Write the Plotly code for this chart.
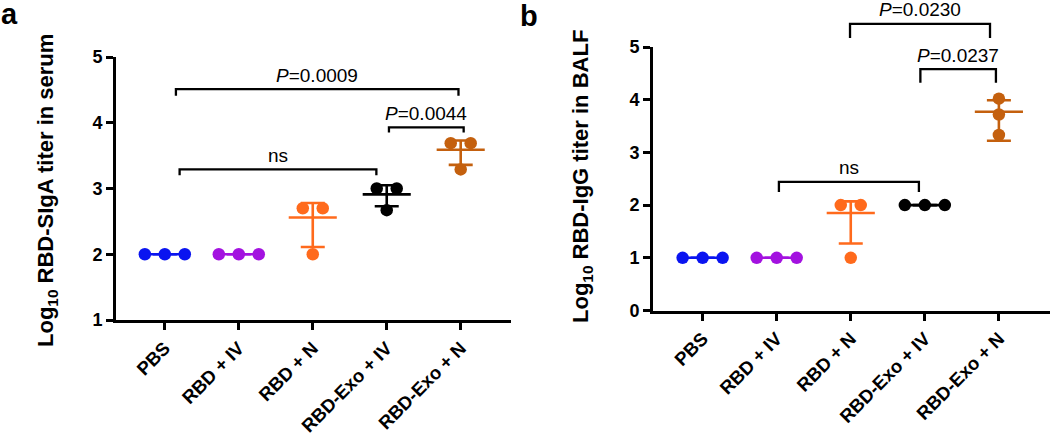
import plotly.graph_objects as go

W, H = 1050, 437

categories = ["PBS", "RBD + IV", "RBD + N", "RBD-Exo + IV", "RBD-Exo + N"]
colors = ["#0A14F0", "#A312E0", "#FF6A1C", "#000000", "#C4600E"]

# Panel a: Log10 RBD-SIgA titer in serum
a_points = [[2.0, 2.0, 2.0], [2.0, 2.0, 2.0], [2.70, 2.70, 2.0], [3.0, 3.0, 2.67], [3.69, 3.69, 3.29]]
a_mean = [2.0, 2.0, 2.56, 2.91, 3.59]
a_err_lo = [2.0, 2.0, 2.11, 2.73, 3.36]
a_err_hi = [2.0, 2.0, 2.78, 3.05, 3.73]

# Panel b: Log10 RBD-IgG titer in BALF
b_points = [[1.0, 1.0, 1.0], [1.0, 1.0, 1.0], [2.0, 2.0, 1.0], [2.0, 2.0, 2.0], [4.02, 3.72, 3.33]]
b_mean = [1.0, 1.0, 1.85, 2.0, 3.77]
b_err_lo = [1.0, 1.0, 1.27, 2.0, 3.22]
b_err_hi = [1.0, 1.0, 2.07, 2.0, 3.99]

# significance brackets: label, x-left, x-right, bar level, foot level
a_brackets = [("<i>P</i>=0.0009", 0.15, 3.97, 4.51, 4.41),
              ("ns", 0.20, 2.86, 3.29, 3.20),
              ("<i>P</i>=0.0044", 3.03, 4.04, 3.93, 3.85)]
b_brackets = [("<i>P</i>=0.0230", 1.99, 3.88, 5.44, 5.17),
              ("<i>P</i>=0.0237", 2.94, 3.96, 4.58, 4.32),
              ("ns", 1.03, 2.92, 2.44, 2.25)]

a_yticks = [1, 2, 3, 4, 5]
b_yticks = [0, 1, 2, 3, 4, 5]

FONT = "Liberation Sans, Arial, sans-serif"

# layout geometry (pixels)
a_dom_x = [116 / W, 511 / W]
a_dom_y = [(H - 320) / H, (H - 57) / H]
a_xr = [-0.66, 4.68]
a_yr = [1, 5]
b_dom_x = [653 / W, 1.0]
b_dom_y = [(H - 310.5) / H, (H - 47) / H]
b_xr = [-0.67, 4.69]
b_yr = [0, 5]


def spread(vals, step=0.27):
    offs = []
    for idx, v in enumerate(vals):
        same = [j for j, w in enumerate(vals) if abs(w - v) < 1e-6]
        n = len(same)
        k = same.index(idx)
        offs.append((k - (n - 1) / 2) * step)
    return offs


def to_paper(v, dom, rng):
    return dom[0] + (v - rng[0]) / (rng[1] - rng[0]) * (dom[1] - dom[0])


fig = go.Figure()


def add_panel(points, mean, lo, hi, xa, ya):
    for i, cat in enumerate(categories):
        c = colors[i]
        # mean line
        fig.add_trace(go.Scatter(x=[i - 0.325, i + 0.325], y=[mean[i], mean[i]], mode="lines",
                                 line=dict(color=c, width=2.6), xaxis=xa, yaxis=ya,
                                 hoverinfo="skip"))
        # error bar (SD)
        fig.add_trace(go.Scatter(x=[i], y=[mean[i]], mode="markers",
                                 marker=dict(size=1, color=c, opacity=0),
                                 error_y=dict(type="data", symmetric=False,
                                              array=[hi[i] - mean[i]], arrayminus=[mean[i] - lo[i]],
                                              color=c, thickness=2.6, width=12),
                                 xaxis=xa, yaxis=ya, hoverinfo="skip"))
    for i, cat in enumerate(categories):
        offs = spread(points[i])
        fig.add_trace(go.Scatter(x=[i + o for o in offs], y=points[i], mode="markers",
                                 marker=dict(size=12.5, color=colors[i], line=dict(width=0)),
                                 xaxis=xa, yaxis=ya, name=cat, cliponaxis=False))


add_panel(a_points, a_mean, a_err_lo, a_err_hi, "x", "y")
add_panel(b_points, b_mean, b_err_lo, b_err_hi, "x2", "y2")

shapes = []
annotations = []
for brs, xref, dom, rng in [(a_brackets, "x", a_dom_y, a_yr), (b_brackets, "x2", b_dom_y, b_yr)]:
    for lab, x0, x1, yt, yf in brs:
        pt = to_paper(yt, dom, rng)
        pf = to_paper(yf, dom, rng)
        shapes.append(dict(type="path", xref=xref, yref="paper",
                           path=f"M {x0},{pf} L {x0},{pt} L {x1},{pt} L {x1},{pf}",
                           line=dict(color="black", width=2.3)))
        annotations.append(dict(text=lab, x=(x0 + x1) / 2, y=pt, xref=xref, yref="paper",
                                xanchor="center", yanchor="middle", yshift=14, showarrow=False,
                                font=dict(family=FONT, size=19, color="black")))

annotations += [
    dict(text="Log<sub>10</sub> RBD-SIgA titer in serum", x=47 / W, y=(H - 191) / H,
         xref="paper", yref="paper", textangle=-90, showarrow=False,
         xanchor="center", yanchor="middle",
         font=dict(family=FONT, size=22, color="black", weight="bold")),
    dict(text="Log<sub>10</sub> RBD-IgG titer in BALF", x=582 / W, y=(H - 177) / H,
         xref="paper", yref="paper", textangle=-90, showarrow=False,
         xanchor="center", yanchor="middle",
         font=dict(family=FONT, size=22, color="black", weight="bold")),
    dict(text="a", x=0, y=(H - 14) / H, xref="paper", yref="paper", showarrow=False,
         xanchor="left", yanchor="middle", borderpad=0,
         font=dict(family=FONT, size=29, color="black", weight="bold")),
    dict(text="b", x=529 / W, y=(H - 16) / H, xref="paper", yref="paper", showarrow=False,
         xanchor="center", yanchor="middle",
         font=dict(family=FONT, size=29, color="black", weight="bold")),
]

xtickfont = dict(family=FONT, size=18.5, color="black", weight="bold")
ytickfont = dict(family=FONT, size=18, color="black", weight="bold")
xcommon = dict(tickmode="array", tickvals=list(range(len(categories))), ticktext=categories,
               tickangle=-45, showline=True, linewidth=3, linecolor="black", ticks="outside",
               ticklen=7, tickwidth=3, tickcolor="black", showgrid=False, zeroline=False,
               tickfont=xtickfont, automargin=False)
ycommon = dict(showline=True, linewidth=3, linecolor="black", ticks="outside", ticklen=7,
               tickwidth=3, tickcolor="black", showgrid=False, zeroline=False, tickfont=ytickfont,
               automargin=False)

fig.update_layout(
    template="none",
    width=W, height=H, margin=dict(l=0, r=0, t=0, b=0, autoexpand=False),
    paper_bgcolor="white", plot_bgcolor="white", showlegend=False,
    xaxis=dict(domain=a_dom_x, range=a_xr, anchor="y", **xcommon),
    yaxis=dict(domain=a_dom_y, range=a_yr, anchor="x", tickvals=a_yticks, **ycommon),
    xaxis2=dict(domain=b_dom_x, range=b_xr, anchor="y2", **xcommon),
    yaxis2=dict(domain=b_dom_y, range=b_yr, anchor="x2", tickvals=b_yticks, **ycommon),
    shapes=shapes, annotations=annotations,
)

fig.write_html("out.html", config={"displayModeBar": False},
               post_script="document.body.style.margin='0px';document.body.style.overflow='hidden';")
